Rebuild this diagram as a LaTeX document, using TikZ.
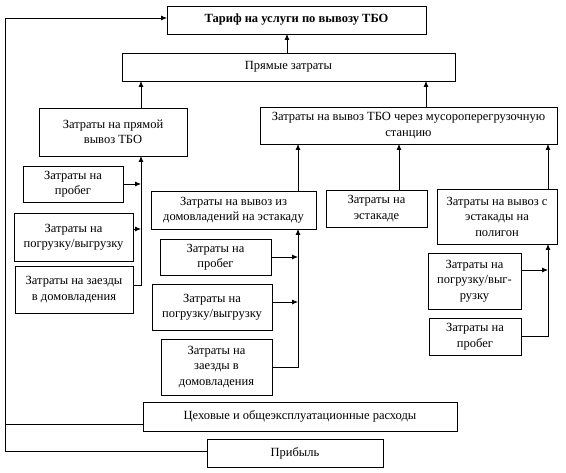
\documentclass[tikz,border=0pt]{standalone}
\usepackage{fontspec}
\setmainfont{Liberation Serif}
\usetikzlibrary{arrows.meta}
\begin{document}
\begin{tikzpicture}[x=1pt,y=-1pt,
  box/.style={draw,line width=0.8pt,inner sep=1pt,outer sep=0pt,align=center,
    font=\fontsize{12.5}{15.5}\selectfont},
  arr/.style={line width=0.8pt,-{Latex[length=6pt,width=5pt]}},
  ln/.style={line width=0.8pt}]
\useasboundingbox (0,0) rectangle (566,473);
\fill[white] (0,0) rectangle (566,473);
% boxes: center = midpoint, size = extent
\node[box,minimum width=259pt,minimum height=28pt,font=\fontsize{12.5}{15.5}\selectfont\bfseries] (tar) at (296.5,20) {Тариф на услуги по вывозу ТБО};
\node[box,minimum width=333pt,minimum height=28pt] (pz) at (288.5,67) {Прямые затраты};
\node[box,minimum width=148pt,minimum height=48pt] (pv) at (113,132) {Затраты на прямой\\вывоз ТБО};
\node[box,minimum width=297pt,minimum height=37pt] (st) at (408.5,125.5) {Затраты на вывоз ТБО через мусороперегрузочную\\станцию};
\node[box,minimum width=100pt,minimum height=36pt] (pr1) at (73,184) {Затраты на\\пробег};
\node[box,minimum width=119pt,minimum height=48pt] (pg1) at (73.5,237) {Затраты на\\погрузку/выгрузку};
\node[box,minimum width=118pt,minimum height=47pt] (zd1) at (74,289.5) {Затраты на заезды\\в домовладения};
\node[box,minimum width=165pt,minimum height=38pt] (dv) at (233.5,210) {Затраты на вывоз из\\домовладений на эстакаду};
\node[box,minimum width=101pt,minimum height=37pt] (es) at (376.5,208.5) {Затраты на\\эстакаде};
\node[box,minimum width=120pt,minimum height=55pt] (ep) at (497,216.5) {Затраты на вывоз с\\эстакады на\\полигон};
\node[box,minimum width=111pt,minimum height=36pt] (pr2) at (215.5,257) {Затраты на\\пробег};
\node[box,minimum width=120pt,minimum height=46pt] (pg2) at (212,307) {Затраты на\\погрузку/выгрузку};
\node[box,minimum width=111pt,minimum height=56pt] (zd2) at (216.5,367) {Затраты на\\заезды в\\домовладения};
\node[box,minimum width=93pt,minimum height=56pt] (pg3) at (474.5,281) {Затраты на\\погрузку/выг-\\рузку};
\node[box,minimum width=92pt,minimum height=37pt] (pr3) at (475,336.5) {Затраты на\\пробег};
\node[box,minimum width=314pt,minimum height=29pt] (ce) at (300,416.5) {Цеховые и общеэксплуатационные расходы};
\node[box,minimum width=176pt,minimum height=28pt] (pb) at (295,453) {Прибыль};
% column coordinates
\coordinate (x287) at (287,0);
\coordinate (x141) at (141,0);
\coordinate (x426) at (426,0);
\coordinate (x298) at (298,0);
\coordinate (x399) at (399,0);
\coordinate (x548) at (548,0);
\coordinate (lft) at (5,18);
% upper connectors
\draw[arr] (pz.north -| x287) -- (tar.south -| x287);
\draw[arr] (pv.north -| x141) -- (pz.south -| x141);
\draw[arr] (st.north -| x426) -- (pz.south -| x426);
\draw[arr] (dv.north -| x298) -- (st.south -| x298);
\draw[arr] (es.north -| x399) -- (st.south -| x399);
\draw[arr] (ep.north -| x548) -- (st.south -| x548);
% column 1
\draw[arr] ([yshift=4pt]zd1.east) -| (pv.south -| x141);
\draw[arr] (pr1.east) -- (pr1.east -| x141);
\draw[arr] ([yshift=8pt]pg1.east) -- ([yshift=8pt]pg1.east -| x141);
% column 2
\draw[arr] (zd2.east) -| (dv.south -| x298);
\draw[arr] (pr2.east) -- (pr2.east -| x298);
\draw[arr] ([yshift=5pt]pg2.east) -- ([yshift=5pt]pg2.east -| x298);
% column 3
\draw[arr] (pr3.east) -| (ep.south -| x548);
\draw[arr] ([yshift=11pt]pg3.east) -- ([yshift=11pt]pg3.east -| x548);
% left return line
\draw[arr] ([yshift=2pt]pb.west) -| (lft) -- ([yshift=2pt]tar.west);
\draw[ln] ([yshift=-7.5pt]ce.west) -- ([yshift=-7.5pt]ce.west -| lft);
\end{tikzpicture}
\end{document}
